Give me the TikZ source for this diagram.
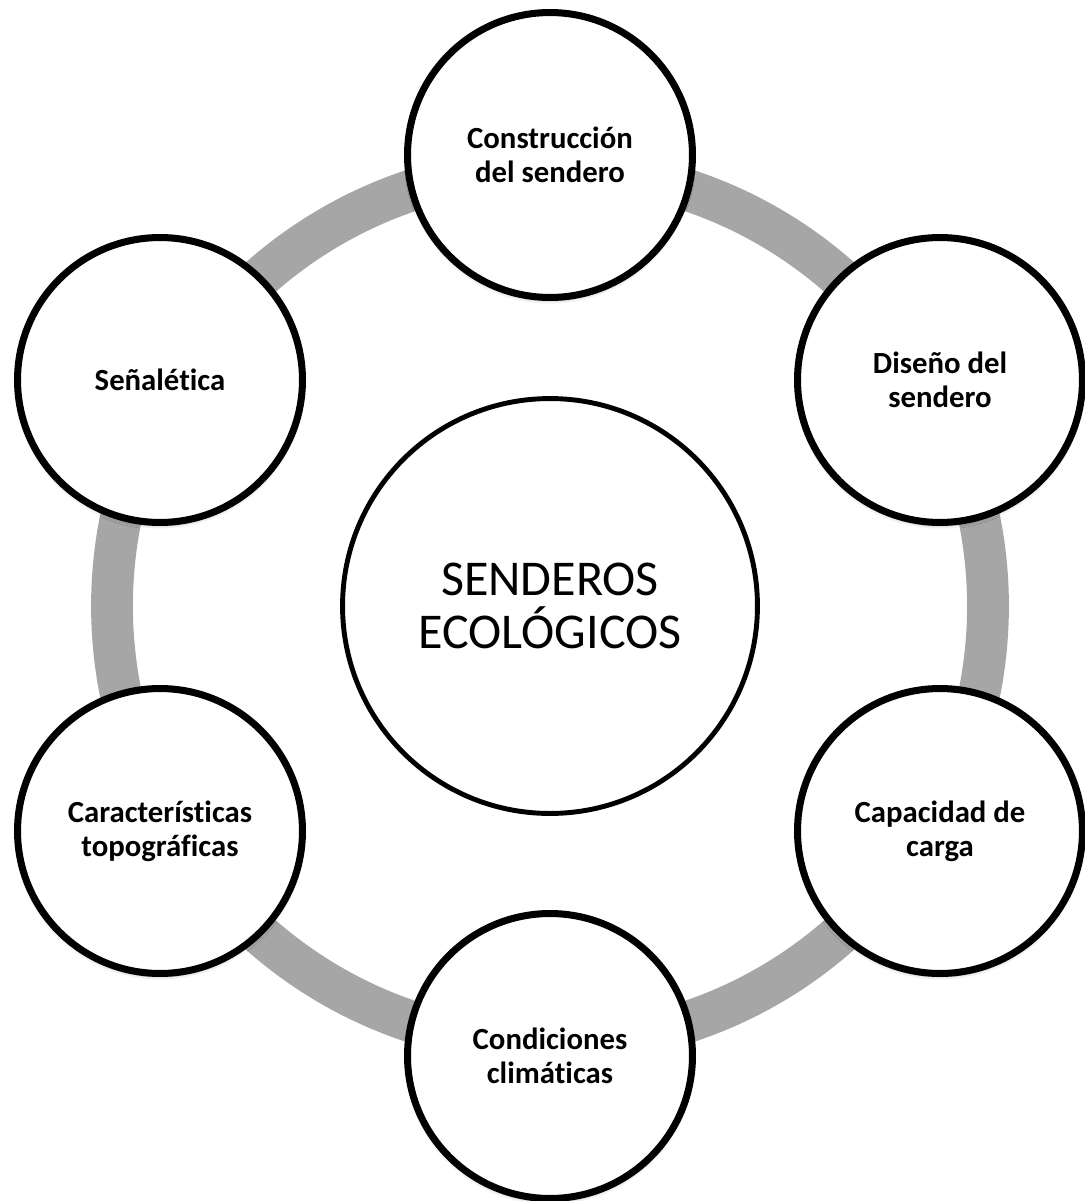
\documentclass[tikz,border=0pt]{standalone}
\usepackage{fontspec}
\setmainfont{Carlito}[Ligatures=NoCommon]
\usetikzlibrary{positioning,shadows.blur}

\begin{document}
\begin{tikzpicture}[x=0.02cm,y=-0.02cm,hub/.style={draw,circle,line width=2.8pt,fill=white,minimum size=8.3cm,align=center,font=\fontsize{28.5}{30.6}\selectfont},item/.style={draw,circle,line width=4pt,fill=white,minimum size=5.7cm,align=center,font=\bfseries\fontsize{17.5}{19.5}\selectfont,blur shadow={shadow xshift=0pt,shadow yshift=-2pt,shadow opacity=25,shadow blur steps=6}},ring/.style={draw=black!35,line width=23.8pt}]
\useasboundingbox (0,0) rectangle (1085,1201);
\coordinate (mid) at (550,606);
\draw[ring] (mid) circle[radius=438];
\node[hub] (senderos) at (mid) {SENDEROS\\ECOLÓGICOS};
\node[item] (constr) at (550,155) {Construcción\\del sendero};
\node[item] (diseno) at (940,380) {Diseño del\\sendero};
\node[item] (carga) at (940,831) {Capacidad de\\carga};
\node[item] (clima) at (550,1056) {Condiciones\\climáticas};
\node[item] (topo) at (160,831) {Características\\topográficas};
\node[item] (senal) at (160,380) {Señalética};
\end{tikzpicture}
\end{document}
